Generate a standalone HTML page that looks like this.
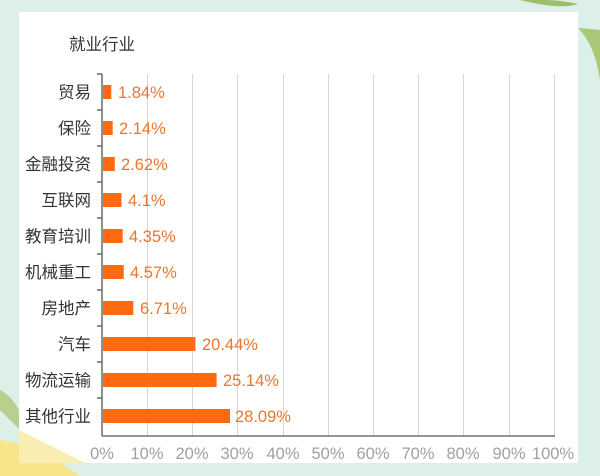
<!DOCTYPE html>
<html><head><meta charset="utf-8"><style>
html,body{margin:0;padding:0;width:600px;height:476px;overflow:hidden;background:#dcefe8}
svg{display:block}
text{font-family:"Liberation Sans","Noto Sans CJK SC",sans-serif}
</style></head><body>
<svg width="600" height="476" viewBox="0 0 600 476" xmlns="http://www.w3.org/2000/svg">
<rect width="600" height="476" fill="#dcefe8"/>
<path d="M520 0 Q560 10 578 4 Q560 0 545 0Z" fill="#9cbf6a"/>
<path d="M578 28 Q595 45 600 80 L600 30Z" fill="#a8c878"/>
<path d="M0 390 Q20 400 30 440 Q10 420 0 410Z" fill="#b9cf8f"/>
<path d="M0 440 Q40 445 80 476 L0 476Z" fill="#f6e58a"/>
<rect x="19" y="12" width="559" height="451" fill="#fff"/>
<path d="M19 430 Q50 445 85 463 L19 463Z" fill="#f8e9a0" opacity="0.8"/>
<text x="69" y="50" font-size="16.5" fill="#333">就业行业</text>
<g stroke="#d6d6d6" stroke-width="1">
<line x1="147.5" y1="74" x2="147.5" y2="436"/><line x1="192.5" y1="74" x2="192.5" y2="436"/>
<line x1="237.5" y1="74" x2="237.5" y2="436"/><line x1="283.5" y1="74" x2="283.5" y2="436"/>
<line x1="328.5" y1="74" x2="328.5" y2="436"/><line x1="373.5" y1="74" x2="373.5" y2="436"/>
<line x1="418.5" y1="74" x2="418.5" y2="436"/><line x1="463.5" y1="74" x2="463.5" y2="436"/>
<line x1="509.5" y1="74" x2="509.5" y2="436"/><line x1="554.5" y1="74" x2="554.5" y2="436"/>
</g>
<g stroke="#555" stroke-width="1.3">
<line x1="102" y1="74" x2="102" y2="436"/><line x1="102" y1="436" x2="555" y2="436"/>
<line x1="97" y1="74" x2="102" y2="74"/><line x1="97" y1="110" x2="102" y2="110"/>
<line x1="97" y1="146" x2="102" y2="146"/><line x1="97" y1="182" x2="102" y2="182"/>
<line x1="97" y1="218" x2="102" y2="218"/><line x1="97" y1="254" x2="102" y2="254"/>
<line x1="97" y1="290" x2="102" y2="290"/><line x1="97" y1="326" x2="102" y2="326"/>
<line x1="97" y1="362" x2="102" y2="362"/><line x1="97" y1="398" x2="102" y2="398"/>
</g>
<g fill="#ff6a10">
<rect x="103" y="85" width="8.3" height="14"/>
<rect x="103" y="121" width="9.7" height="14"/>
<rect x="103" y="157" width="11.8" height="14"/>
<rect x="103" y="193" width="18.5" height="14"/>
<rect x="103" y="229" width="19.7" height="14"/>
<rect x="103" y="265" width="20.7" height="14"/>
<rect x="103" y="301" width="30.3" height="14"/>
<rect x="103" y="337" width="92.4" height="14"/>
<rect x="103" y="373" width="113.6" height="14"/>
<rect x="103" y="409" width="127" height="14"/>
</g>
<g font-size="16.5" fill="#333" text-anchor="end">
<text x="91" y="98">贸易</text><text x="91" y="134">保险</text>
<text x="91" y="170">金融投资</text><text x="91" y="206">互联网</text>
<text x="91" y="242">教育培训</text><text x="91" y="278">机械重工</text>
<text x="91" y="314">房地产</text><text x="91" y="350">汽车</text>
<text x="91" y="386">物流运输</text><text x="91" y="422">其他行业</text>
</g>
<g font-size="16.5" fill="#e8772e">
<text x="118" y="98">1.84%</text><text x="119" y="134">2.14%</text>
<text x="121" y="170">2.62%</text><text x="128" y="206">4.1%</text>
<text x="129" y="242">4.35%</text><text x="130" y="278">4.57%</text>
<text x="140" y="314">6.71%</text><text x="202" y="350">20.44%</text>
<text x="223" y="386">25.14%</text><text x="235" y="422">28.09%</text>
</g>
<g font-size="16.5" fill="#a0a0a0" text-anchor="middle">
<text x="102" y="459">0%</text><text x="147" y="459">10%</text>
<text x="192" y="459">20%</text><text x="237" y="459">30%</text>
<text x="283" y="459">40%</text><text x="328" y="459">50%</text>
<text x="373" y="459">60%</text><text x="418" y="459">70%</text>
<text x="463" y="459">80%</text><text x="509" y="459">90%</text>
<text x="553" y="459">100%</text>
</g>
</svg>
</body></html>
